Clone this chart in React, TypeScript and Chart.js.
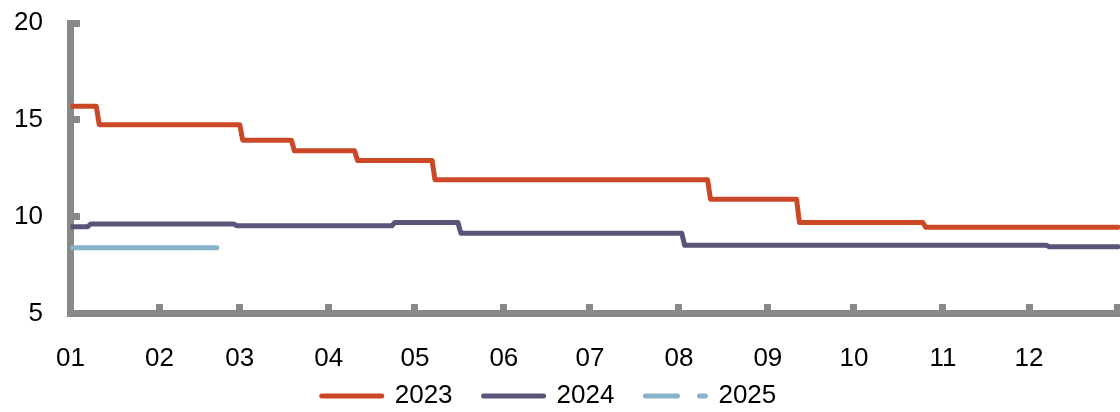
import React, { useEffect, useRef } from 'react';
import { Chart, registerables } from 'chart.js';

Chart.register(...registerables);

// X axis: day of year, ticks at month starts
const monthTickDays = [0, 31, 59, 90, 120, 151, 181, 212, 243, 273, 304, 334, 365];
const monthLabels = ['01', '02', '03', '04', '05', '06', '07', '08', '09', '10', '11', '12'];

// Y axis
const yMin = 5;
const yMax = 20;
const yStep = 5;

// Series (day of year, value)
const days2023 = [0, 9, 10, 59, 60, 77, 78, 99, 100, 126, 127, 222, 223, 253, 254, 297, 298, 365];
const values2023 = [15.7, 15.7, 14.75, 14.75, 13.95, 13.95, 13.4, 13.4, 12.9, 12.9, 11.9, 11.9, 10.9, 10.9, 9.7, 9.7, 9.45, 9.45];

const days2024 = [0, 6, 7, 57, 58, 112, 113, 135, 136, 213, 214, 340, 341, 365];
const values2024 = [9.48, 9.48, 9.62, 9.62, 9.53, 9.53, 9.7, 9.7, 9.15, 9.15, 8.52, 8.52, 8.45, 8.45];

const days2025 = [0, 51];
const values2025 = [8.4, 8.4];

const seriesNames = ['2023', '2024', '2025'];
const seriesColors = ['#CC4726', '#595478', '#86B3C8'];

const FONT = 'Liberation Sans, Arial, Helvetica, sans-serif';
const FONT_SIZE = 26;
const AXIS_GREY = '#898989';

const toPoints = (xs: number[], ys: number[]) => xs.map((x, i) => ({ x, y: ys[i] }));

const zeroPadding = (scale: any) => {
  scale.paddingTop = 0;
  scale.paddingBottom = 0;
  scale.paddingLeft = 0;
  scale.paddingRight = 0;
  scale._computeLabelArea = () => undefined;
};

export default function App() {
  const ref = useRef<HTMLCanvasElement>(null);

  useEffect(() => {
    const canvas = ref.current;
    if (!canvas) return;
    const allDays = [days2023, days2024, days2025];
    const allVals = [values2023, values2024, values2025];
    const chart = new Chart(canvas, {
      type: 'line',
      data: {
        datasets: seriesNames.map((name, i) => ({
          label: name,
          data: toPoints(allDays[i], allVals[i]),
          borderColor: seriesColors[i],
          backgroundColor: seriesColors[i],
          borderWidth: 5,
          pointRadius: 0,
          pointHoverRadius: 0,
          tension: 0,
          fill: false,
          borderCapStyle: 'round',
          borderJoinStyle: 'round',
        })),
      },
      options: {
        responsive: false,
        devicePixelRatio: 1,
        animation: false,
        events: [],
        layout: { padding: { top: 23, left: 0, right: 0, bottom: 0 } },
        scales: {
          x: {
            type: 'linear',
            min: 0,
            max: 365.7,
            afterBuildTicks: (scale: any) => {
              scale.ticks = monthTickDays.map((v) => ({ value: v }));
            },
            afterFit: (scale: any) => {
              scale.height = 38.5;
              zeroPadding(scale);
            },
            ticks: {
              autoSkip: false,
              maxRotation: 0,
              minRotation: 0,
              padding: 38.9,
              color: '#000',
              font: { family: FONT, size: FONT_SIZE },
              callback: (_v: any, index: number) => (index < monthLabels.length ? monthLabels[index] : ''),
            },
            grid: {
              drawOnChartArea: false,
              drawTicks: true,
              tickLength: -9.5,
              color: AXIS_GREY,
              lineWidth: 7,
            },
            border: { display: true, color: AXIS_GREY, width: 7 },
          },
          y: {
            type: 'linear',
            min: yMin,
            max: yMax,
            afterFit: (scale: any) => {
              scale.width = 92.5;
              zeroPadding(scale);
            },
            ticks: {
              stepSize: yStep,
              padding: 37,
              color: '#000',
              font: { family: FONT, size: FONT_SIZE },
            },
            grid: {
              drawOnChartArea: false,
              drawTicks: true,
              tickLength: -9.5,
              color: AXIS_GREY,
              lineWidth: 7,
            },
            border: { display: true, color: AXIS_GREY, width: 7 },
          },
        },
        plugins: {
          tooltip: { enabled: false },
          title: { display: false },
          legend: {
            display: true,
            position: 'bottom',
            align: 'center',
            labels: {
              usePointStyle: true,
              pointStyle: 'line',
              pointStyleWidth: 60,
              padding: 31,
              color: '#000',
              font: { family: FONT, size: FONT_SIZE },
              generateLabels: (c: any) => {
                const items = (Chart.defaults as any).plugins.legend.labels.generateLabels(c);
                items.forEach((it: any, i: number) => {
                  it.lineCap = 'round';
                  it.lineWidth = 5;
                  it.pointStyle = 'line';
                  if (i === 2) it.lineDash = [32, 22];
                });
                return items;
              },
            },
          },
        },
      } as any,
    });
    return () => chart.destroy();
  }, []);

  return (
    <div style={{ position: 'fixed', left: 0, top: 0, width: 1120, height: 412, overflow: 'hidden', background: '#fff' }}>
      <canvas
        ref={ref}
        width={1142}
        height={419}
        style={{ position: 'absolute', left: -22, top: 0, width: 1142, height: 419, display: 'block' }}
      />
    </div>
  );
}
